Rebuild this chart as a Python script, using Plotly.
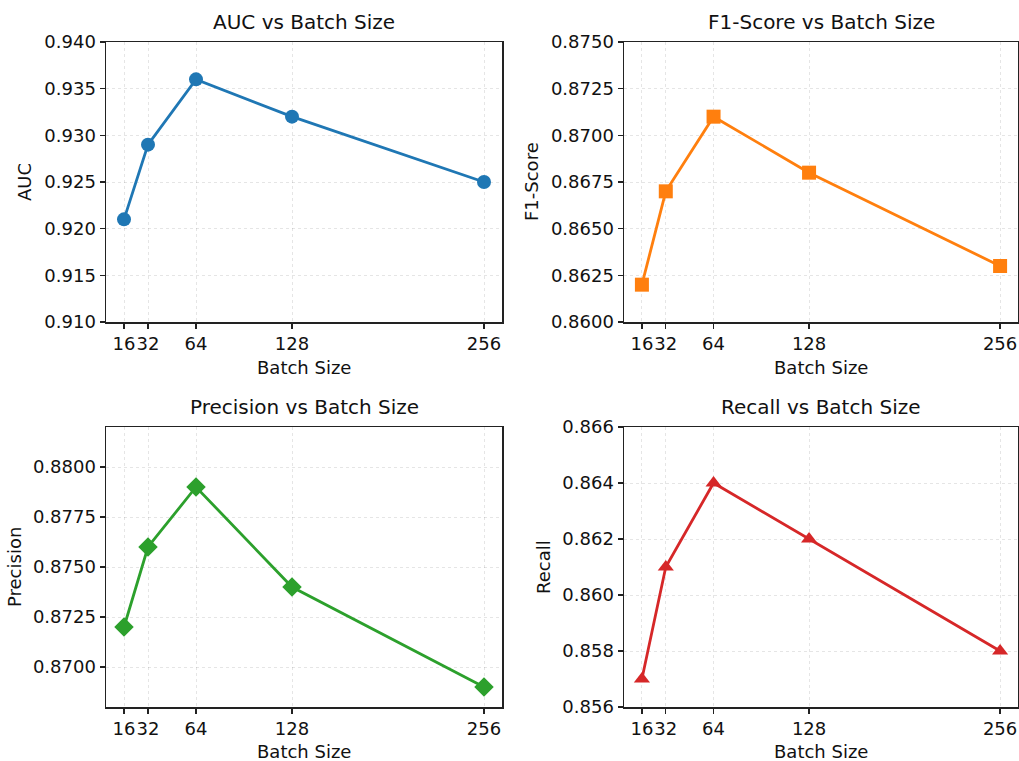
import plotly.graph_objects as go

batch_sizes = [16, 32, 64, 128, 256]
tick_labels = ["16", "32", "64", "128", "256"]
auc = [0.921, 0.929, 0.936, 0.932, 0.925]
f1 = [0.862, 0.867, 0.871, 0.868, 0.863]
precision = [0.872, 0.876, 0.879, 0.874, 0.869]
recall = [0.857, 0.861, 0.864, 0.862, 0.858]

titles = ["AUC vs Batch Size", "F1-Score vs Batch Size", "Precision vs Batch Size", "Recall vs Batch Size"]
ylabels = ["AUC", "F1-Score", "Precision", "Recall"]
colors = ["#1f77b4", "#ff7f0e", "#2ca02c", "#d62728"]
symbols = ["circle", "square", "diamond", "triangle-up"]
series = [auc, f1, precision, recall]
yranges = [[0.910, 0.940], [0.860, 0.875], [0.868, 0.882], [0.856, 0.866]]
yticks = [
    [0.910, 0.915, 0.920, 0.925, 0.930, 0.935, 0.940],
    [0.8600, 0.8625, 0.8650, 0.8675, 0.8700, 0.8725, 0.8750],
    [0.8700, 0.8725, 0.8750, 0.8775, 0.8800],
    [0.856, 0.858, 0.860, 0.862, 0.864, 0.866],
]
yfmt = [".3f", ".4f", ".4f", ".3f"]

W, H = 1019, 761
# pixel boxes (left, right, top, bottom)
boxes = [(106, 502, 42, 322), (624, 1018, 42, 322), (106, 502, 427, 707), (624, 1018, 427, 707)]
ytitle_x = [25, 532, 14, 543]

FONT = "DejaVu Sans"
fig = go.Figure()
annotations = []
for i in range(4):
    l, r, t, b = boxes[i]
    xa = "xaxis" if i == 0 else f"xaxis{i+1}"
    ya = "yaxis" if i == 0 else f"yaxis{i+1}"
    xref = "x" if i == 0 else f"x{i+1}"
    yref = "y" if i == 0 else f"y{i+1}"
    fig.add_trace(go.Scatter(
        x=batch_sizes, y=series[i], mode="lines+markers",
        line=dict(color=colors[i], width=2.8),
        marker=dict(symbol=symbols[i], size=14 if i != 2 else 15, color=colors[i]),
        xaxis=xref, yaxis=yref, showlegend=False, cliponaxis=False,
    ))
    common = dict(
        showline=True, mirror=True, linecolor="#222", linewidth=1.5,
        ticks="outside", ticklen=5, tickwidth=1.2, tickcolor="#222",
        showgrid=True, gridcolor="rgba(0,0,0,0.10)", griddash="3px,3px", gridwidth=1,
        zeroline=False, automargin=False, tickangle=0,
        tickfont=dict(family=FONT, size=18, color="#111"),
    )
    fig.update_layout({
        xa: dict(domain=[l / W, r / W], range=[4, 268], tickvals=batch_sizes, ticktext=tick_labels,
                 anchor=yref, **common),
        ya: dict(domain=[1 - b / H, 1 - t / H], range=yranges[i], tickvals=yticks[i],
                 tickformat=yfmt[i], anchor=xref, **common),
    })
    cx = (l + r) / 2
    annotations.append(dict(text=titles[i], x=cx / W, y=1 - (22 if i < 2 else 407) / H,
                            xref="paper", yref="paper", showarrow=False,
                            font=dict(family=FONT, size=20, color="#111"),
                            xanchor="center", yanchor="middle"))
    annotations.append(dict(text="Batch Size", x=cx / W, y=1 - (367 if i < 2 else 751) / H,
                            xref="paper", yref="paper", showarrow=False,
                            font=dict(family=FONT, size=18, color="#111"),
                            xanchor="center", yanchor="middle"))
    annotations.append(dict(text=ylabels[i], x=ytitle_x[i] / W, y=1 - ((t + b) / 2) / H,
                            xref="paper", yref="paper", showarrow=False, textangle=-90,
                            font=dict(family=FONT, size=18, color="#111"),
                            xanchor="center", yanchor="middle"))

fig.update_layout(template="none", width=W, height=H, margin=dict(l=0, r=0, t=0, b=0, autoexpand=False),
                  paper_bgcolor="white", plot_bgcolor="white", hovermode=False,
                  annotations=annotations)
fig.write_html("out.html", config={"displayModeBar": False, "staticPlot": True},
               post_script="document.body.style.margin='0';document.body.style.overflow='hidden';")
